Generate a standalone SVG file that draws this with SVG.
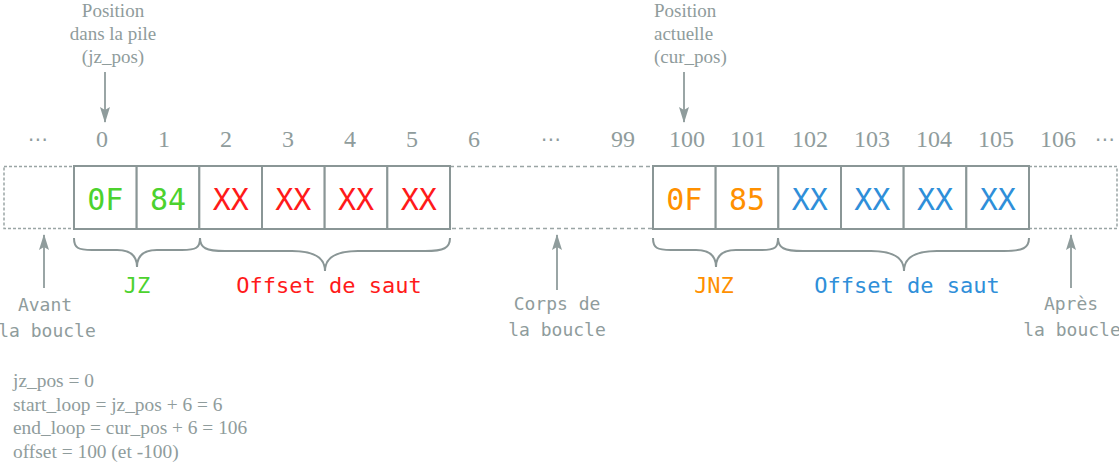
<svg xmlns="http://www.w3.org/2000/svg" width="1119" height="465" viewBox="0 0 1119 465">
<style>
.bg{fill:#ffffff}
.cell{fill:#ffffff;stroke:#8a9696;stroke-width:2}
.dotted{fill:none;stroke:#9aa5a5;stroke-width:1.5;stroke-dasharray:3 2}
.dashed{fill:none;stroke:#9aa5a5;stroke-width:1.5;stroke-dasharray:4 3}
.idx{font-family:"Liberation Serif","DejaVu Serif",serif;font-size:24px;fill:#8f9c9c;text-anchor:middle}
.dots{font-family:"DejaVu Sans","Liberation Serif",serif;font-size:20px;fill:#8f9c9c;text-anchor:middle}
.note{font-family:"Liberation Serif","DejaVu Serif",serif;font-size:19px;fill:#8f9c9c}
.form{font-family:"Liberation Serif","DejaVu Serif",serif;font-size:19.4px;fill:#8f9c9c}
.mono{font-family:"DejaVu Sans Mono","Liberation Mono",monospace;text-anchor:middle}
.val{font-size:30px}
.lbl{font-size:22px}
.cap{font-size:18px;fill:#8f9c9c}
.g{fill:#4cd22e}
.r{fill:#ff1a1a}
.o{fill:#ff9000}
.b{fill:#2f8fd9}
.wire{fill:none;stroke:#8f9c9c;stroke-width:1.8}
.brace{fill:none;stroke:#8a9696;stroke-width:2}
</style>
<defs>
<marker id="ah" markerUnits="userSpaceOnUse" markerWidth="16" markerHeight="10" refX="15" refY="5" orient="auto">
<path d="M0,0 L16,5 L0,10 L3,5 z" fill="#8f9c9c"/>
</marker>
</defs>
<rect class="bg" x="0" y="0" width="1119" height="465"/>

<g id="index-labels">
<text class="dots" x="38" y="146">⋯</text>
<text class="idx" x="102" y="146.5">0</text>
<text class="idx" x="164" y="146.5">1</text>
<text class="idx" x="226" y="146.5">2</text>
<text class="idx" x="288" y="146.5">3</text>
<text class="idx" x="350" y="146.5">4</text>
<text class="idx" x="412" y="146.5">5</text>
<text class="idx" x="474" y="146.5">6</text>
<text class="dots" x="551" y="146">⋯</text>
<text class="idx" x="623" y="146.5">99</text>
<text class="idx" x="687" y="146.5">100</text>
<text class="idx" x="748" y="146.5">101</text>
<text class="idx" x="810" y="146.5">102</text>
<text class="idx" x="872" y="146.5">103</text>
<text class="idx" x="934" y="146.5">104</text>
<text class="idx" x="996" y="146.5">105</text>
<text class="idx" x="1058" y="146.5">106</text>
<text class="dots" x="1105" y="146">⋯</text>
</g>

<g id="zone-avant"><rect class="dotted" x="4" y="166.5" width="70" height="62"/></g>
<g id="zone-corps"><rect class="dashed" x="450" y="166.5" width="203" height="62"/></g>
<g id="zone-apres"><rect class="dotted" x="1029" y="166.5" width="88" height="62"/></g>

<g id="cell-0"><rect class="cell" x="74" y="166" width="62.67" height="63"/><text class="mono val g" x="105.3" y="210">0F</text></g>
<g id="cell-1"><rect class="cell" x="136.67" y="166" width="62.67" height="63"/><text class="mono val g" x="168" y="210">84</text></g>
<g id="cell-2"><rect class="cell" x="199.33" y="166" width="62.67" height="63"/><text class="mono val r" x="230.7" y="210">XX</text></g>
<g id="cell-3"><rect class="cell" x="262" y="166" width="62.67" height="63"/><text class="mono val r" x="293.3" y="210">XX</text></g>
<g id="cell-4"><rect class="cell" x="324.67" y="166" width="62.67" height="63"/><text class="mono val r" x="356" y="210">XX</text></g>
<g id="cell-5"><rect class="cell" x="387.33" y="166" width="62.67" height="63"/><text class="mono val r" x="418.7" y="210">XX</text></g>

<g id="cell-100"><rect class="cell" x="653" y="166" width="62.67" height="63"/><text class="mono val o" x="684.3" y="210">0F</text></g>
<g id="cell-101"><rect class="cell" x="715.67" y="166" width="62.67" height="63"/><text class="mono val o" x="747" y="210">85</text></g>
<g id="cell-102"><rect class="cell" x="778.33" y="166" width="62.67" height="63"/><text class="mono val b" x="809.7" y="210">XX</text></g>
<g id="cell-103"><rect class="cell" x="841" y="166" width="62.67" height="63"/><text class="mono val b" x="872.3" y="210">XX</text></g>
<g id="cell-104"><rect class="cell" x="903.67" y="166" width="62.67" height="63"/><text class="mono val b" x="935" y="210">XX</text></g>
<g id="cell-105"><rect class="cell" x="966.33" y="166" width="62.67" height="63"/><text class="mono val b" x="997.7" y="210">XX</text></g>

<g id="braces">
<path class="brace" d="M74,238 C74,248 78,250 92,250 L117,250 C131,250 137,256 137,267 C137,256 143,250 157,250 L182,250 C196,250 200,248 200,238"/>
<path class="brace" d="M200,238 C200,248 206,251 225,251 L292,251 C315,251 325,258 325,271 C325,258 335,251 358,251 L425,251 C444,251 450,248 450,238"/>
<path class="brace" d="M653,238 C653,248 657,250 671,250 L696,250 C710,250 716,256 716,267 C716,256 722,250 736,250 L761,250 C775,250 778,248 778,238"/>
<path class="brace" d="M778,238 C778,248 784,251 803,251 L871,251 C894,251 904,258 904,271 C904,258 914,251 937,251 L1004,251 C1023,251 1029,248 1029,238"/>
</g>

<g id="brace-labels">
<text class="mono lbl g" x="137" y="293">JZ</text>
<text class="mono lbl r" x="329" y="293">Offset de saut</text>
<text class="mono lbl o" x="714" y="293">JNZ</text>
<text class="mono lbl b" x="907" y="293">Offset de saut</text>
</g>

<g id="label-jz-pos">
<text class="note" text-anchor="middle" x="113" y="17">Position</text>
<text class="note" text-anchor="middle" x="113" y="40">dans la pile</text>
<text class="note" text-anchor="middle" x="113" y="63">(jz_pos)</text>
</g>
<g id="label-cur-pos">
<text class="note" x="654" y="17">Position</text>
<text class="note" x="654" y="40">actuelle</text>
<text class="note" x="654" y="63">(cur_pos)</text>
</g>

<g id="label-avant">
<text class="mono cap" x="45" y="311">Avant</text>
<text class="mono cap" x="47" y="337">la boucle</text>
</g>
<g id="label-corps">
<text class="mono cap" x="557" y="310">Corps de</text>
<text class="mono cap" x="557" y="336">la boucle</text>
</g>
<g id="label-apres">
<text class="mono cap" x="1071" y="310">Après</text>
<text class="mono cap" x="1072" y="336">la boucle</text>
</g>

<g id="connectors">
<line class="wire" x1="105" y1="72" x2="105" y2="122" marker-end="url(#ah)"/>
<line class="wire" x1="684" y1="72" x2="684" y2="122" marker-end="url(#ah)"/>
<line class="wire" x1="44" y1="288" x2="44" y2="235" marker-end="url(#ah)"/>
<line class="wire" x1="557" y1="290" x2="557" y2="235" marker-end="url(#ah)"/>
<line class="wire" x1="1071" y1="288" x2="1071" y2="235" marker-end="url(#ah)"/>
</g>

<g id="formulas">
<text class="form" x="13" y="387">jz_pos = 0</text>
<text class="form" x="13" y="410.5">start_loop = jz_pos + 6 = 6</text>
<text class="form" x="13" y="434">end_loop = cur_pos + 6 = 106</text>
<text class="form" x="13" y="457.5">offset = 100 (et -100)</text>
</g>
</svg>
